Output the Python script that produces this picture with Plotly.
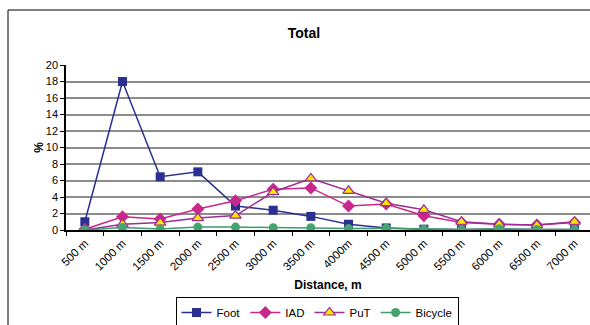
import plotly.graph_objects as go

categories = ["500 m", "1000 m", "1500 m", "2000 m", "2500 m", "3000 m", "3500 m",
              "4000m", "4500 m", "5000 m", "5500 m", "6000 m", "6500 m", "7000 m"]
foot = [1.0, 18.0, 6.45, 7.05, 2.9, 2.4, 1.65, 0.7, 0.25, 0.1, 0.05, 0.12, 0.05, 0.05]
iad = [0.1, 1.6, 1.33, 2.55, 3.55, 4.95, 5.1, 2.9, 3.15, 1.72, 0.9, 0.7, 0.6, 0.9]
put = [0.0, 0.7, 0.9, 1.45, 1.75, 4.6, 6.25, 4.75, 3.25, 2.45, 1.0, 0.7, 0.6, 1.0]
bicycle = [0.0, 0.3, 0.12, 0.35, 0.35, 0.28, 0.28, 0.17, 0.2, 0.1, 0.05, 0.15, 0.05, 0.05]
y_ticks = list(range(0, 21, 2))

FONT = "Liberation Sans, Arial, sans-serif"

fig = go.Figure()
fig.add_trace(go.Scatter(x=categories, y=foot, name="Foot", mode="lines+markers",
                         line=dict(color="#2B3090", width=1.5),
                         marker=dict(symbol="square", size=9, color="#2B3090")))
fig.add_trace(go.Scatter(x=categories, y=iad, name="IAD", mode="lines+markers",
                         line=dict(color="#C8288C", width=1.5),
                         marker=dict(symbol="diamond", size=10, color="#C8288C")))
fig.add_trace(go.Scatter(x=categories, y=put, name="PuT", mode="lines+markers",
                         line=dict(color="#9B2D94", width=1.5),
                         marker=dict(symbol="triangle-up", size=10, color="#FFE600",
                                     line=dict(color="#9B2D94", width=1.2))))
fig.add_trace(go.Scatter(x=categories, y=bicycle, name="Bicycle", mode="lines+markers",
                         line=dict(color="#3C9C6C", width=1.5),
                         marker=dict(symbol="circle", size=9, color="#45A56F")))

L, T, B = 66, 65, 95
W, H = 590, 325
pw = W - L
ph = H - T - B

fig.update_layout(
    width=W, height=H,
    margin=dict(l=L, r=0, t=T, b=B, pad=0, autoexpand=False),
    paper_bgcolor="white", plot_bgcolor="white",
    font=dict(family=FONT, size=11, color="black"),
    title=dict(text="<b>Total</b>", x=(304 - L) / pw, xref="paper", xanchor="center",
               y=(H - 33) / H, yanchor="middle", font=dict(size=14, family=FONT)),
    showlegend=True,
    legend=dict(orientation="h", x=(317 - L) / pw, xanchor="center",
                y=(T + ph - 297) / ph, yanchor="top",
                bordercolor="black", borderwidth=1, bgcolor="white",
                font=dict(size=11.5, family=FONT), itemwidth=30,
                tracegroupgap=0),
    xaxis=dict(
        type="category", categoryorder="array", categoryarray=categories,
        range=[-0.5, 13.41], tickangle=-45, tickson="boundaries",
        ticks="outside", ticklen=4, tickcolor="black",
        showline=True, linecolor="black", linewidth=2,
        showgrid=False, zeroline=False, automargin=False,
        title=dict(text="<b>Distance, m</b>", font=dict(size=12, family=FONT), standoff=9),
        tickfont=dict(size=11.5, family=FONT),
    ),
    yaxis=dict(
        range=[0, 20], tickvals=y_ticks, ticks="outside", ticklen=4, tickcolor="black",
        showline=True, linecolor="black", linewidth=1.5,
        showgrid=True, gridcolor="#8C8C8C", gridwidth=2, zeroline=False, automargin=False,
        title=dict(text="<b>%</b>", font=dict(size=12, family=FONT), standoff=0),
        tickfont=dict(size=11, family=FONT),
    ),
)

# outer chart frame (Excel chart area border)
fig.add_shape(type="rect", xref="paper", yref="paper",
              x0=(8 - L) / pw, x1=1.2, y0=(T + ph - 10) / ph, y1=-1.0,
              line=dict(color="black", width=1), fillcolor="rgba(0,0,0,0)", layer="below")

fig.write_html("out.html")
